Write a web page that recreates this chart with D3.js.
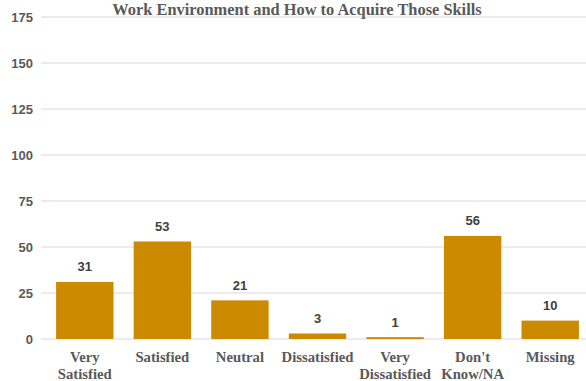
<!DOCTYPE html>
<html><head><meta charset="utf-8">
<script src="https://cdn.jsdelivr.net/npm/d3@7"></script>
<style>body{margin:0;background:#fff}</style>
</head><body>
<svg id="c" width="586" height="381"></svg>
<script>
const categories = [["Very","Satisfied"],["Satisfied"],["Neutral"],["Dissatisfied"],["Very","Dissatisfied"],["Don't","Know/NA"],["Missing"]];
const values = [31, 53, 21, 3, 1, 56, 10];
const yTicks = [0, 25, 50, 75, 100, 125, 150, 175];
const title = "Work Environment and How to Acquire Those Skills";

const svg = d3.select("#c");
const y = d3.scaleLinear().domain([0,175]).range([339,17]);
const x = d3.scaleBand().domain(d3.range(categories.length)).range([46,589]).paddingInner(0.26).paddingOuter(0.13);

svg.append("g").selectAll("line").data(yTicks).join("line")
  .attr("x1",41).attr("x2",586).attr("y1",d=>y(d)).attr("y2",d=>y(d))
  .attr("stroke","#d9d9d9").attr("stroke-width",1);

svg.append("g").selectAll("text").data(yTicks).join("text")
  .attr("x",33).attr("y",d=>y(d)+5).attr("text-anchor","end")
  .attr("font-family","Liberation Sans, Arial, sans-serif").attr("font-weight","bold")
  .attr("font-size",13).attr("fill","#595959").text(d=>d);

svg.append("g").selectAll("rect").data(values).join("rect")
  .attr("x",(d,i)=>x(i)).attr("width",x.bandwidth())
  .attr("y",d=>y(d)).attr("height",d=>y(0)-y(d))
  .attr("fill","#cc8a00");

svg.append("g").selectAll("text").data(values).join("text")
  .attr("x",(d,i)=>x(i)+x.bandwidth()/2).attr("y",d=>y(d)-10.5)
  .attr("text-anchor","middle")
  .attr("font-family","Liberation Sans, Arial, sans-serif").attr("font-weight","bold")
  .attr("font-size",13).attr("fill","#404040").text(d=>d);

const xl = svg.append("g").selectAll("text").data(categories).join("text")
  .attr("text-anchor","middle")
  .attr("font-family","Liberation Serif, Times New Roman, serif").attr("font-weight","bold")
  .attr("font-size",14.7).attr("fill","#595959");
xl.each(function(d,i){
  const t = d3.select(this);
  d.forEach((line,j)=>{
    t.append("tspan").attr("x",x(i)+x.bandwidth()/2).attr("y",362+j*16.5).text(line);
  });
});

svg.append("text").attr("x",297).attr("y",14.5).attr("text-anchor","middle")
  .attr("font-family","Liberation Serif, Times New Roman, serif").attr("font-weight","bold")
  .attr("font-size",16.4).attr("fill","#595959").text(title);
</script>
</body></html>
